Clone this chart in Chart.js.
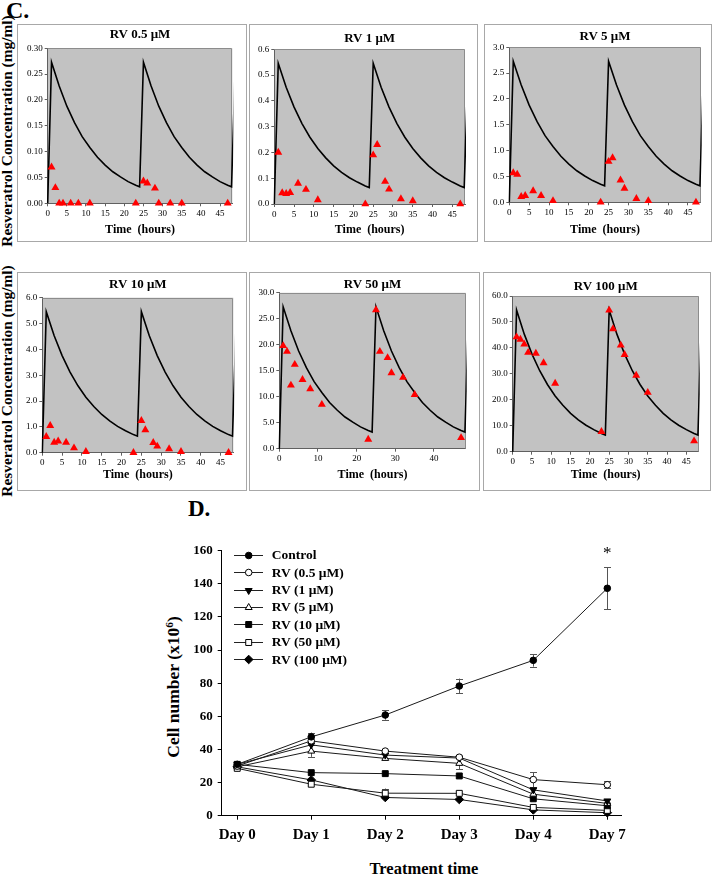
<!DOCTYPE html>
<html lang="es">
<head>
<meta charset="utf-8">
<title>Resveratrol</title>
<script src="https://cdn.jsdelivr.net/npm/chart.js@4.4.1/dist/chart.umd.min.js"></script>
<style>
  html, body { margin: 0; padding: 0; background: #fff; }
  body { position: relative; width: 714px; height: 876px; overflow: hidden;
         font-family: "Liberation Serif", "Times New Roman", serif; color: #000; }
  .caja { position: absolute; border: 1px solid #a8a8a8; box-sizing: border-box; }
  canvas { position: absolute; }
  .etiqueta { position: absolute; font-weight: bold; white-space: nowrap; line-height: 1; }
  .vertical { transform: translate(-50%, -50%) rotate(-90deg); }
</style>
</head>
<body>
<div class="etiqueta" style="left:6px; top:-2px; font-size:24px;">C.</div>
<div class="etiqueta vertical" style="left:7px; top:131px; font-size:15.4px;">Resveratrol Concentration (mg/ml)</div>
<div class="etiqueta vertical" style="left:7px; top:381px; font-size:15.4px;">Resveratrol Concentration (mg/ml)</div>

<div class="caja" style="left:17px; top:24px; width:230px; height:218px;"></div>
<div class="caja" style="left:249px; top:24px; width:229px; height:218px;"></div>
<div class="caja" style="left:484px; top:24px; width:228px; height:218px;"></div>
<div class="caja" style="left:17px; top:272px; width:230px; height:219px;"></div>
<div class="caja" style="left:249px; top:272px; width:231px; height:219px;"></div>
<div class="caja" style="left:483px; top:272px; width:228px; height:219px;"></div>

<canvas id="p1"></canvas>
<canvas id="p2"></canvas>
<canvas id="p3"></canvas>
<canvas id="p4"></canvas>
<canvas id="p5"></canvas>
<canvas id="p6"></canvas>

<div class="etiqueta" style="left:188px; top:497px; font-size:23px;">D.</div>
<div class="etiqueta vertical" style="left:174px; top:687px; font-size:17.5px;">Cell number (x10<span style="font-size:0.65em; position:relative; top:-0.5em;">6</span>)</div>
<div class="etiqueta" style="left:424px; top:861px; font-size:16.5px; transform:translateX(-50%);">Treatment time</div>
<canvas id="celulas"></canvas>

<script>
// ---- Panel C: concentración de resveratrol ----
const horasCurva = [0, 1, 3, 5, 7, 9, 11, 13, 15, 17, 19, 21, 23, 24, 25, 27, 29, 31, 33, 35, 37, 39, 41, 43, 45, 47, 48, 49];
const curva05 = [0, 0.273, 0.227, 0.188, 0.156, 0.129, 0.108, 0.089, 0.074, 0.061, 0.051, 0.042, 0.035, 0.032, 0.273, 0.227, 0.188, 0.156, 0.129, 0.108, 0.089, 0.074, 0.061, 0.051, 0.042, 0.035, 0.032, 0.273];
const curva1 = [0, 0.546, 0.453, 0.376, 0.312, 0.259, 0.215, 0.179, 0.148, 0.123, 0.102, 0.085, 0.070, 0.064, 0.546, 0.453, 0.376, 0.312, 0.259, 0.215, 0.179, 0.148, 0.123, 0.102, 0.085, 0.070, 0.064, 0.546];
const curva5 = [0, 2.73, 2.27, 1.88, 1.56, 1.29, 1.08, 0.89, 0.74, 0.61, 0.51, 0.42, 0.35, 0.32, 2.73, 2.27, 1.88, 1.56, 1.29, 1.08, 0.89, 0.74, 0.61, 0.51, 0.42, 0.35, 0.32, 2.73];
const curva10 = [0, 5.46, 4.53, 3.76, 3.12, 2.59, 2.15, 1.79, 1.48, 1.23, 1.02, 0.85, 0.70, 0.64, 5.46, 4.53, 3.76, 3.12, 2.59, 2.15, 1.79, 1.48, 1.23, 1.02, 0.85, 0.70, 0.64, 5.46];
const curva50 = [0, 27.3, 22.7, 18.8, 15.6, 12.9, 10.8, 8.9, 7.4, 6.1, 5.1, 4.2, 3.5, 3.2, 27.3, 22.7, 18.8, 15.6, 12.9, 10.8, 8.9, 7.4, 6.1, 5.1, 4.2, 3.5, 3.2, 27.3];
const curva100 = [0, 54.6, 45.3, 37.6, 31.2, 25.9, 21.5, 17.9, 14.8, 12.3, 10.2, 8.5, 7.0, 6.4, 54.6, 45.3, 37.6, 31.2, 25.9, 21.5, 17.9, 14.8, 12.3, 10.2, 8.5, 7.0, 6.4, 54.6];

const horasMuestra = [1, 2, 3, 4, 6, 8, 11, 23, 25, 26, 28, 29, 32, 35, 47];
const medido05 = [0.07, 0.03, 0, 0, 0, 0, 0, 0, 0.043, 0.039, 0.029, 0, 0, 0, 0];
const medido1 = [0.20, 0.043, 0.04, 0.044, 0.08, 0.056, 0.016, 0, 0.19, 0.23, 0.087, 0.057, 0.02, 0.012, 0];
const medido5 = [0.57, 0.54, 0.11, 0.13, 0.22, 0.13, 0.03, 0, 0.79, 0.86, 0.43, 0.27, 0.07, 0.03, 0];
const medido10 = [0.62, 1.05, 0.40, 0.45, 0.40, 0.18, 0.04, 0, 1.24, 0.88, 0.39, 0.25, 0.15, 0.04, 0];
const medido50 = [19.8, 18.7, 12.2, 16.2, 13.3, 11.5, 8.5, 1.8, 26.7, 18.7, 17.5, 14.6, 13.7, 10.4, 2.1];
const medido100 = [44.2, 43.3, 41.4, 38.2, 37.9, 34.2, 26.3, 7.7, 54.5, 47.3, 41.0, 37.4, 29.4, 22.8, 4.1];

const titulosPanel = ['RV 0.5 μM', 'RV 1 μM', 'RV 5 μM', 'RV 10 μM', 'RV 50 μM', 'RV 100 μM'];
const yTicks05 = [0, 0.05, 0.10, 0.15, 0.20, 0.25, 0.30];
const yTicks1 = [0, 0.1, 0.2, 0.3, 0.4, 0.5, 0.6];
const yTicks5 = [0, 0.5, 1.0, 1.5, 2.0, 2.5, 3.0];
const yTicks10 = [0, 1, 2, 3, 4, 5, 6];
const yTicks50 = [0, 5, 10, 15, 20, 25, 30];
const yTicks100 = [0, 10, 20, 30, 40, 50, 60];
const xTicksHoras = [0, 5, 10, 15, 20, 25, 30, 35, 40, 45];
const xTicksHoras10 = [0, 10, 20, 30, 40];

// ---- Panel D: número de células ----
const dias = ['Day 0', 'Day 1', 'Day 2', 'Day 3', 'Day 4', 'Day 7'];
const nombresSeries = ['Control', 'RV (0.5 μM)', 'RV (1 μM)', 'RV (5 μM)', 'RV (10 μM)', 'RV (50 μM)', 'RV (100 μM)'];
const control = [31, 47.6, 60.8, 78.3, 93.8, 137.3];
const controlErr = [1, 2.6, 2.8, 4.5, 3.8, 12.6];
const rv05 = [30, 45.2, 39, 35.3, 21.8, 18.7];
const rv05Err = [1, 1.5, 1.2, 1.2, 4.5, 2.2];
const rv1 = [31, 42.8, 36.6, 34.8, 15.6, 8.9];
const rv1Err = [1, 2, 1, 1.5, 1, 1];
const rv5 = [29.5, 39, 34.6, 31.6, 13, 7.4];
const rv5Err = [1, 3.5, 1, 3.5, 1, 1];
const rv10 = [31, 26, 25.4, 24, 10.2, 6];
const rv10Err = [1, 1, 1, 1, 1.5, 1];
const rv50 = [28.6, 19, 13.6, 13.5, 5, 3.2];
const rv50Err = [1, 1.5, 2.8, 1, 1, 0.8];
const rv100 = [29.5, 21.6, 11, 9.8, 3.5, 1.8];
const rv100Err = [1, 1, 1, 1, 0.8, 0.8];
const yTicksCelulas = [0, 20, 40, 60, 80, 100, 120, 140, 160];

const familia = '"Liberation Serif", "Times New Roman", serif';

// Fondo gris del área de trazado y su marco
const fondoGrafico = {
    id: 'fondoGrafico',
    beforeDraw(chart) {
        const a = chart.chartArea, ctx = chart.ctx;
        ctx.save();
        ctx.fillStyle = '#c2c2c2';
        ctx.fillRect(a.left, a.top, a.right - a.left, a.bottom - a.top);
        ctx.restore();
    },
    beforeDatasetsDraw(chart) {
        const a = chart.chartArea, ctx = chart.ctx;
        ctx.save();
        ctx.strokeStyle = '#8c8c8c';
        ctx.lineWidth = 1;
        ctx.beginPath();
        ctx.moveTo(a.left, Math.round(a.top) + 0.5);
        ctx.lineTo(Math.round(a.right) - 0.5, Math.round(a.top) + 0.5);
        ctx.lineTo(Math.round(a.right) - 0.5, a.bottom);
        ctx.stroke();
        ctx.restore();
    }
};

const paneles = [
    { id: 'p1', caja: [17, 24, 230, 218], area: [47.7, 48.3, 232.3, 203.3], tituloY: 35, horasY: 230, curva: curva05, medidos: medido05, yTicks: yTicks05, dec: 2, xTicks: xTicksHoras },
    { id: 'p2', caja: [249, 24, 229, 218], area: [274.3, 49.3, 465, 204], tituloY: 39, horasY: 230, curva: curva1, medidos: medido1, yTicks: yTicks1, dec: 1, xTicks: xTicksHoras },
    { id: 'p3', caja: [484, 24, 228, 218], area: [509.3, 47.3, 700.7, 202.3], tituloY: 36.7, horasY: 230, curva: curva5, medidos: medido5, yTicks: yTicks5, dec: 1, xTicks: xTicksHoras },
    { id: 'p4', caja: [17, 272, 230, 219], area: [42.3, 297.7, 233.3, 452.7], tituloY: 285, horasY: 475, curva: curva10, medidos: medido10, yTicks: yTicks10, dec: 1, xTicks: xTicksHoras },
    { id: 'p5', caja: [249, 272, 231, 219], area: [279.3, 292.7, 465.7, 448.7], tituloY: 285, horasY: 475, curva: curva50, medidos: medido50, yTicks: yTicks50, dec: 1, xTicks: xTicksHoras10 },
    { id: 'p6', caja: [483, 272, 228, 219], area: [512.7, 296, 698.7, 451.7], tituloY: 287, horasY: 475, curva: curva100, medidos: medido100, yTicks: yTicks100, dec: 1, xTicks: xTicksHoras }
];

function crearPanel(p, titulo) {
    const [cx, cy, cw, ch] = p.caja;
    const [al, at, ar, ab] = p.area;
    const canvas = document.getElementById(p.id);
    canvas.width = cw;
    canvas.height = ch;
    canvas.style.left = cx + 'px';
    canvas.style.top = cy + 'px';

    const altoTitulo = 13 * 1.2;
    const padTitulo = Math.max(p.tituloY - cy - altoTitulo / 2, 0);
    const padTituloInf = Math.max(at - cy - padTitulo - altoTitulo, 0);
    const padHoras = Math.max(cy + ch - p.horasY - 12 * 1.2 / 2, 0);

    new Chart(canvas.getContext('2d'), {
        type: 'scatter',
        data: {
            datasets: [{
                type: 'scatter',
                data: horasMuestra.map((h, i) => ({ x: h, y: p.medidos[i] })),
                pointStyle: 'triangle',
                pointRadius: 4.6,
                pointBackgroundColor: '#ff0000',
                pointBorderColor: '#ff0000',
                pointBorderWidth: 0,
                clip: false
            }, {
                type: 'line',
                data: horasCurva.map((h, i) => ({ x: h, y: p.curva[i] })),
                borderColor: '#000',
                borderWidth: 1.6,
                pointRadius: 0,
                tension: 0,
                fill: false,
                clip: 1
            }]
        },
        options: {
            responsive: false,
            animation: false,
            events: [],
            layout: { padding: { left: 0, top: 0, right: cx + cw - ar, bottom: 0 } },
            plugins: {
                legend: { display: false },
                tooltip: { enabled: false },
                title: {
                    display: true,
                    text: titulo,
                    fullSize: false,
                    color: '#000',
                    font: { family: familia, size: 13, weight: 'bold' },
                    padding: { top: padTitulo, bottom: padTituloInf }
                }
            },
            scales: {
                x: {
                    type: 'linear',
                    min: 0,
                    max: 48.2,
                    afterBuildTicks: s => { s.ticks = p.xTicks.map(v => ({ value: v })); },
                    afterFit: s => { s.height = cy + ch - ab; },
                    grid: { drawOnChartArea: false, tickLength: 3, color: '#606060' },
                    border: { color: '#606060' },
                    ticks: { autoSkip: false, maxRotation: 0, padding: 2, color: '#000', font: { family: familia, size: 9 } },
                    title: {
                        display: true,
                        text: 'Time  (hours)',
                        color: '#000',
                        font: { family: familia, size: 12, weight: 'bold' },
                        padding: { top: 0, bottom: padHoras }
                    }
                },
                y: {
                    type: 'linear',
                    min: 0,
                    max: p.yTicks[p.yTicks.length - 1],
                    afterBuildTicks: s => { s.ticks = p.yTicks.map(v => ({ value: v })); },
                    afterFit: s => { s.width = al - cx; },
                    grid: { drawOnChartArea: false, tickLength: 3, color: '#606060' },
                    border: { color: '#606060' },
                    ticks: {
                        padding: 2,
                        color: '#000',
                        font: { family: familia, size: 9 },
                        callback: v => v.toFixed(p.dec)
                    }
                }
            }
        },
        plugins: [fondoGrafico]
    });
}

paneles.forEach((p, i) => crearPanel(p, titulosPanel[i]));

// ---- Gráfico D ----
const valoresD = [control, rv05, rv1, rv5, rv10, rv50, rv100];
const erroresD = [controlErr, rv05Err, rv1Err, rv5Err, rv10Err, rv50Err, rv100Err];
const estilosD = [
    { pointStyle: 'circle', relleno: '#000', rot: 0, r: 3.3 },
    { pointStyle: 'circle', relleno: '#fff', rot: 0, r: 3.3 },
    { pointStyle: 'triangle', relleno: '#000', rot: 180, r: 4 },
    { pointStyle: 'triangle', relleno: '#fff', rot: 0, r: 4 },
    { pointStyle: 'rect', relleno: '#000', rot: 0, r: 4.2 },
    { pointStyle: 'rect', relleno: '#fff', rot: 0, r: 4.2 },
    { pointStyle: 'rectRot', relleno: '#000', rot: 0, r: 4.3 }
];

// Barras de error, leyenda y asterisco
const extrasD = {
    id: 'extrasD',
    beforeDatasetsDraw(chart) {
        const ctx = chart.ctx, xs = chart.scales.x, ys = chart.scales.y;
        ctx.save();
        ctx.strokeStyle = '#555';
        ctx.lineWidth = 1;
        chart.data.datasets.forEach(ds => {
            ds.errores.forEach((e, i) => {
                const px = Math.round(xs.getPixelForValue(i)) + 0.5;
                const y1 = ys.getPixelForValue(ds.data[i].y + e);
                const y2 = ys.getPixelForValue(ds.data[i].y - e);
                if (y2 - y1 < 7) return;
                ctx.beginPath();
                ctx.moveTo(px, y1); ctx.lineTo(px, y2);
                ctx.moveTo(px - 3.5, Math.round(y1) + 0.5); ctx.lineTo(px + 3.5, Math.round(y1) + 0.5);
                ctx.moveTo(px - 3.5, Math.round(y2) + 0.5); ctx.lineTo(px + 3.5, Math.round(y2) + 0.5);
                ctx.stroke();
            });
        });
        ctx.restore();
    },
    afterDraw(chart) {
        const ctx = chart.ctx, a = chart.chartArea, xs = chart.scales.x, ys = chart.scales.y;
        ctx.save();
        chart.data.datasets.forEach((ds, i) => {
            const y = a.top + 4 + i * 17.4;
            ctx.strokeStyle = '#222';
            ctx.lineWidth = 1;
            ctx.beginPath();
            ctx.moveTo(a.left + 12.3, Math.round(y) + 0.5);
            ctx.lineTo(a.left + 41.3, Math.round(y) + 0.5);
            ctx.stroke();
            ctx.fillStyle = ds.pointBackgroundColor;
            ctx.strokeStyle = '#000';
            Chart.helpers.drawPoint(ctx, {
                pointStyle: ds.pointStyle, rotation: ds.pointRotation,
                radius: ds.pointRadius, borderWidth: 1
            }, a.left + 27, Math.round(y) + 0.5);
            ctx.fillStyle = '#000';
            ctx.font = 'bold 13.5px ' + familia;
            ctx.textBaseline = 'middle';
            ctx.textAlign = 'left';
            ctx.fillText(ds.label, a.left + 50, y + 1);
        });
        // asterisco sobre Day 7 (control)
        const ultimo = control.length - 1;
        ctx.font = '17px ' + familia;
        ctx.textAlign = 'center';
        ctx.textBaseline = 'alphabetic';
        ctx.fillText('*', xs.getPixelForValue(ultimo), ys.getPixelForValue(control[ultimo] + controlErr[ultimo]) - 9);
        ctx.restore();
    }
};

const canvasD = document.getElementById('celulas');
canvasD.width = 564;
canvasD.height = 348;
canvasD.style.left = '150px';
canvasD.style.top = '528px';

new Chart(canvasD.getContext('2d'), {
    type: 'line',
    data: {
        datasets: valoresD.map((serie, k) => ({
            label: nombresSeries[k],
            data: serie.map((v, i) => ({ x: i, y: v })),
            errores: erroresD[k],
            borderColor: '#1a1a1a',
            borderWidth: 1,
            tension: 0,
            fill: false,
            pointStyle: estilosD[k].pointStyle,
            pointRotation: estilosD[k].rot,
            pointRadius: estilosD[k].r,
            pointBackgroundColor: estilosD[k].relleno,
            pointBorderColor: '#000',
            pointBorderWidth: 1,
            clip: false
        }))
    },
    options: {
        responsive: false,
        animation: false,
        events: [],
        layout: { padding: { left: 0, top: 22.7, right: 93, bottom: 0 } },
        plugins: { legend: { display: false }, tooltip: { enabled: false } },
        scales: {
            x: {
                type: 'linear',
                min: -0.21,
                max: 5.185,
                afterBuildTicks: s => { s.ticks = dias.map((d, i) => ({ value: i })); },
                afterFit: s => { s.height = 876 - 815.7; },
                grid: { drawOnChartArea: false, tickLength: 4, color: '#000' },
                border: { color: '#000' },
                ticks: {
                    autoSkip: false, maxRotation: 0, padding: 6, color: '#000',
                    font: { family: familia, size: 15, weight: 'bold' },
                    callback: v => dias[v]
                }
            },
            y: {
                type: 'linear',
                min: 0,
                max: 160,
                afterBuildTicks: s => { s.ticks = yTicksCelulas.map(v => ({ value: v })); },
                afterFit: s => { s.width = 221.7 - 150; },
                grid: { drawOnChartArea: false, tickLength: 4, color: '#000' },
                border: { color: '#000' },
                ticks: { padding: 5, color: '#000', font: { family: familia, size: 13, weight: 'bold' } }
            }
        }
    },
    plugins: [extrasD]
});
</script>
</body>
</html>
